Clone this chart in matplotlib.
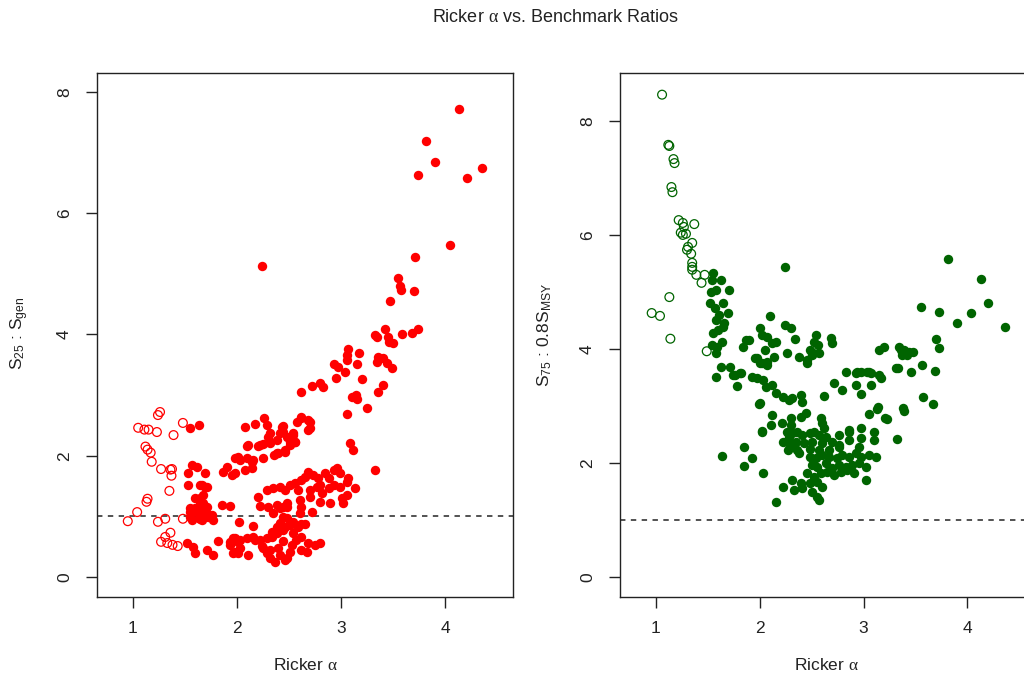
import numpy as np
import matplotlib
matplotlib.use("Agg")
import matplotlib.pyplot as plt

plt.rcParams['font.family'] = ['Liberation Sans', 'DejaVu Sans']
plt.rcParams['mathtext.fontset'] = 'custom'
plt.rcParams['mathtext.rm'] = 'Liberation Sans'
plt.rcParams['mathtext.it'] = 'Liberation Serif'

# ---- data ----
# left panel: S25 : Sgen
left_open_x = [1.26, 1.24, 1.05, 1.11, 1.15, 1.23, 1.48, 1.39, 1.12, 1.14, 1.17, 1.18,
               1.27, 1.36, 1.375, 1.37, 1.35, 1.14, 1.13, 1.04, 0.95, 1.24, 1.31, 1.48,
               1.36, 1.31, 1.27, 1.33, 1.38, 1.43]
left_open_y = [2.72, 2.67, 2.46, 2.43, 2.43, 2.39, 2.54, 2.34, 2.15, 2.10, 2.05, 1.90,
               1.78, 1.77, 1.78, 1.67, 1.42, 1.29, 1.24, 1.07, 0.92, 0.91, 0.96, 0.96,
               0.73, 0.66, 0.58, 0.56, 0.53, 0.51]

left_fill_x = [4.13, 3.82, 3.90, 3.74, 4.21, 4.36, 4.05, 2.24, 3.71, 3.55, 3.57, 3.58, 3.70, 3.47,
               3.42, 3.33, 3.35, 3.45, 3.46, 3.50, 3.59, 3.68, 3.74, 3.07, 3.06, 3.06, 3.17, 3.15,
               2.93, 2.97, 3.04, 3.36, 3.35, 3.40, 3.44, 3.49, 2.95, 3.20, 2.62, 2.72, 2.80, 2.83,
               3.11, 3.14, 3.15, 3.36, 3.40, 3.25, 3.06, 3.09, 3.12, 3.33,
               2.08, 2.17, 2.26, 2.29, 2.32, 2.62, 2.70, 2.68, 2.10, 2.20, 2.25, 2.32, 2.38, 2.41,
               2.44, 2.48, 2.51, 2.54, 2.56, 2.38, 2.46, 2.25, 1.98, 2.03, 2.10, 2.15, 2.14, 2.08,
               1.98, 1.95, 1.87, 1.90, 2.43, 2.44, 2.58, 2.62, 2.68, 2.70, 2.54, 2.56, 2.51, 2.46,
               2.39, 2.36, 2.30, 2.32, 2.22, 2.11, 2.14, 2.01,
               1.55, 1.63, 1.57, 1.62, 1.53, 1.69, 1.53, 1.64, 1.69, 1.60, 1.64, 1.67, 1.71, 1.55,
               1.58, 1.63, 1.55, 1.63, 1.66, 1.72, 1.77, 1.76, 1.86, 1.93, 1.52, 1.58, 1.60, 1.71,
               1.77, 1.82, 1.66, 1.71, 1.67, 1.64, 1.67, 1.60, 1.55, 1.71, 1.57, 1.64,
               1.96, 2.01, 1.93, 2.03, 1.98,
               2.02, 2.15, 1.93, 1.98, 2.03, 2.10, 2.15, 2.22, 2.29, 2.34, 1.96, 2.01, 2.11, 2.25,
               2.29, 2.32, 2.37, 2.41, 2.48, 2.51, 2.38, 2.44, 2.41, 2.51, 2.59, 2.65, 2.54, 2.62,
               2.68, 2.75, 2.80, 2.62, 2.67, 2.35, 2.44, 2.48, 2.17, 2.44, 2.53, 2.57, 2.39, 2.46,
               2.32, 2.24,
               2.20, 2.29, 2.22, 2.30, 2.35, 2.41, 2.46, 2.51, 2.56, 2.59, 2.62, 2.65, 2.68, 2.73,
               2.78, 2.80, 2.85, 2.88, 2.93, 2.96, 2.99, 2.70, 2.77, 2.82, 2.88, 2.93, 2.99, 3.06,
               3.07, 3.13, 3.06, 3.02, 2.89, 2.80, 2.70, 2.61, 2.62, 2.48, 2.41, 2.38, 3.01, 2.72,
               2.61, 2.54, 2.62, 2.46, 2.44, 2.48, 2.38, 2.34]
left_fill_y = [7.71, 7.19, 6.85, 6.63, 6.58, 6.75, 5.48, 5.12, 5.28, 4.93, 4.79, 4.74, 4.72, 4.55,
               4.09, 3.99, 3.96, 3.96, 3.88, 3.86, 4.01, 4.03, 4.09, 3.76, 3.66, 3.58, 3.70, 3.51,
               3.51, 3.47, 3.38, 3.63, 3.55, 3.61, 3.53, 3.45, 3.28, 3.27, 3.05, 3.15, 3.20, 3.14,
               2.97, 3.00, 2.94, 3.05, 3.17, 2.79, 2.69, 2.21, 2.10, 1.77,
               2.47, 2.52, 2.62, 2.51, 2.38, 2.62, 2.56, 2.43, 2.16, 2.16, 2.19, 2.23, 2.26, 2.38,
               2.49, 2.31, 2.23, 2.38, 2.23, 2.05, 2.06, 1.96, 1.96, 1.93, 1.96, 1.93, 1.80, 1.77,
               1.72, 1.68, 1.73, 1.82, 2.48, 2.39, 2.56, 2.64, 2.59, 2.46, 2.34, 2.23, 2.18, 2.10,
               2.05, 2.01, 2.31, 2.21, 2.18, 2.18, 1.90, 1.98,
               2.46, 2.51, 1.85, 1.82, 1.72, 1.72, 1.52, 1.52, 1.49, 1.30, 1.30, 1.22, 1.16, 1.14,
               1.07, 1.06, 0.99, 0.97, 0.94, 0.99, 0.94, 1.02, 1.19, 1.17, 0.56, 0.50, 0.40, 0.45,
               0.36, 0.59, 1.52, 1.49, 1.35, 1.24, 1.16, 1.14, 1.07, 1.04, 0.94, 0.96,
               0.64, 0.58, 0.53, 0.48, 0.41,
               0.91, 0.84, 0.58, 0.64, 0.61, 0.64, 0.66, 0.61, 0.64, 0.66, 0.40, 0.40, 0.36, 0.48,
               0.40, 0.31, 0.25, 0.36, 0.31, 0.41, 0.73, 0.78, 0.89, 0.86, 0.83, 0.87, 0.73, 0.66,
               0.56, 0.53, 0.56, 0.45, 0.41, 1.06, 1.16, 1.22, 0.61, 0.59, 0.53, 0.61, 0.48, 0.28,
               0.45, 0.51,
               1.32, 1.44, 1.17, 1.16, 1.47, 1.49, 1.44, 1.52, 1.55, 1.44, 1.60, 1.65, 1.73, 1.68,
               1.63, 1.52, 1.72, 1.63, 1.77, 1.80, 1.72, 1.44, 1.49, 1.39, 1.47, 1.52, 1.49, 1.57,
               1.63, 1.47, 1.35, 1.22, 1.22, 1.24, 1.32, 1.27, 1.16, 1.16, 1.14, 1.19, 1.30, 1.07,
               1.06, 0.91, 0.87, 0.83, 0.99, 0.97, 0.83, 0.74]

# right panel: S75 : 0.8 SMSY
right_open_x = [1.06, 1.12, 1.13, 1.17, 1.18, 1.15, 1.16, 1.22, 1.26, 1.27, 1.24, 1.26, 1.29,
                1.37, 1.35, 1.31, 1.30, 1.34, 1.35, 1.35, 1.35, 1.39, 1.44, 1.47, 1.13, 0.96,
                1.04, 1.14, 1.49]
right_open_y = [8.46, 7.58, 7.56, 7.33, 7.26, 6.84, 6.75, 6.26, 6.21, 6.14, 6.04, 6.00, 6.02,
                6.19, 5.86, 5.79, 5.74, 5.67, 5.51, 5.44, 5.39, 5.30, 5.16, 5.30, 4.91, 4.63,
                4.58, 4.18, 3.96]

right_fill_x = [1.55, 1.54, 1.63, 1.70, 1.53, 1.58, 1.52, 1.57, 1.65, 1.61, 1.69, 1.58, 1.66,
                1.55, 1.60, 1.65, 1.54, 1.59, 1.64, 1.58, 1.63, 2.24, 3.81, 4.13, 4.20, 4.36,
                3.55, 3.73, 4.03, 3.90, 3.70, 3.73, 3.34, 3.39, 3.44, 3.48, 3.37, 3.42, 3.36,
                3.15, 3.20, 3.31, 3.46, 3.56, 3.69, 2.10, 2.24, 2.30, 2.34, 2.26, 2.00, 2.02,
                2.07, 2.12, 2.16, 1.87, 1.84, 2.05, 2.14, 1.97, 2.00, 2.07, 2.54, 2.52, 2.56,
                2.57, 2.51, 2.46, 2.38, 2.48, 2.69, 2.70, 2.83, 2.94, 2.98, 3.05, 1.71, 1.81,
                1.76, 1.93, 1.90, 2.46, 2.50,
                1.95, 2.02, 2.07, 1.97, 2.03, 2.06, 2.12, 2.16, 2.22, 2.28, 2.31, 2.40, 2.41,
                1.82, 2.00, 2.62, 2.72, 2.79, 2.93, 3.03, 3.07, 3.15, 3.17, 2.93, 3.07, 2.98,
                3.13, 3.05, 3.21, 2.12, 2.21, 2.30, 2.40, 2.45, 2.11, 2.30, 2.59, 2.60, 2.62,
                2.02, 2.26, 2.31, 2.36, 2.41, 2.48, 2.52, 2.57, 2.64, 2.76, 2.86, 2.98, 2.98,
                3.10, 3.10, 2.22, 2.28, 2.35, 2.43, 2.50, 2.60, 2.70, 2.76, 2.27, 2.36, 2.48,
                2.57, 2.67, 1.85, 1.93, 1.85, 2.03, 2.48, 2.54, 2.60, 2.67, 2.74, 2.79, 2.86,
                2.93, 2.98, 3.05, 3.12, 2.50, 2.55, 2.64, 2.70, 2.76, 2.83, 2.89, 2.96, 3.02,
                2.46, 2.52, 2.59, 2.65, 2.72, 2.78, 2.84, 2.91, 2.31, 2.40, 2.48, 2.55, 2.60,
                2.22, 2.33, 2.41, 2.50, 2.55, 2.57, 2.16, 3.02, 2.28, 2.31, 2.38, 2.86, 2.76,
                2.96, 3.33, 3.57, 3.67, 3.14, 3.38, 3.32, 3.39, 3.23, 1.64, 1.99, 2.02, 1.58,
                1.74, 1.78, 2.86]
right_fill_y = [5.33, 5.21, 5.21, 5.04, 5.00, 5.04, 4.81, 4.72, 4.81, 4.60, 4.63, 4.51, 4.46,
                4.28, 4.33, 4.39, 4.07, 4.04, 4.12, 3.93, 3.68, 5.44, 5.58, 5.23, 4.81, 4.39,
                4.74, 4.65, 4.63, 4.46, 4.18, 4.02, 4.04, 3.98, 3.95, 3.95, 3.89, 3.89, 3.98,
                3.98, 4.04, 3.67, 3.60, 3.72, 3.61, 4.58, 4.42, 4.37, 4.18, 3.93, 4.37, 4.25,
                4.21, 4.11, 4.12, 4.16, 4.04, 3.98, 3.86, 3.84, 3.75, 3.77, 4.25, 4.12, 4.07,
                3.93, 3.93, 3.81, 3.86, 3.98, 4.19, 4.11, 3.60, 3.60, 3.60, 3.60, 3.68, 3.58,
                3.54, 3.51, 4.16, 3.75, 3.89,
                3.84, 3.75, 3.72, 3.49, 3.46, 3.33, 3.37, 3.23, 3.16, 3.11, 3.14, 3.19, 3.07,
                3.58, 3.05, 3.18, 3.40, 3.28, 3.58, 3.60, 3.58, 3.54, 3.49, 3.37, 3.37, 3.21,
                2.95, 2.86, 2.79, 2.84, 2.70, 2.79, 2.81, 2.88, 2.67, 2.67, 2.79, 2.70, 2.61,
                2.54, 2.54, 2.53, 2.54, 2.49, 2.53, 2.54, 2.49, 2.46, 2.49, 2.54, 2.61, 2.44,
                2.54, 2.40, 2.37, 2.35, 2.37, 2.35, 2.37, 2.35, 2.37, 2.32, 2.23, 2.23, 2.25,
                2.23, 2.23, 2.28, 2.09, 1.95, 1.82, 2.11, 2.09, 2.14, 2.11, 2.09, 2.14, 2.11,
                2.18, 2.11, 2.14, 2.11, 1.96, 1.93, 2.00, 1.91, 1.96, 1.93, 1.96, 2.00, 1.93,
                1.82, 1.75, 1.82, 1.84, 1.79, 1.84, 1.88, 1.82, 1.70, 1.65, 1.65, 1.67, 1.58,
                1.58, 1.53, 1.56, 1.49, 1.40, 1.35, 1.32, 1.70, 2.46, 2.28, 2.18, 2.40, 2.28,
                2.28, 3.67, 3.16, 3.04, 2.98, 2.96, 2.42, 2.91, 2.77, 2.12, 3.04, 2.56, 3.51,
                3.54, 3.35, 2.58]

x_ticks = [1, 2, 3, 4]
left_y_ticks = [0, 2, 4, 6, 8]
right_y_ticks = [0, 2, 4, 6, 8]
benchmark = 1.0

red = '#ff0000'
green = '#006400'

fig = plt.figure(figsize=(10.24, 6.81), dpi=100)
ax1 = fig.add_axes([97 / 1024, 84 / 681, 416 / 1024, 524 / 681])
ax2 = fig.add_axes([620 / 1024, 84 / 681, 416 / 1024, 524 / 681])


def style(ax, yt):
    ax.set_xticks(x_ticks)
    ax.set_yticks(yt)
    ax.tick_params(axis='both', length=8, width=1, color='#222222', labelsize=12.5,
                   labelcolor='#222222')
    ax.tick_params(axis='x', pad=9)
    ax.tick_params(axis='y', pad=10, labelrotation=90)
    for lab in ax.get_yticklabels():
        lab.set_va('center')
    for s in ax.spines.values():
        s.set_color('#222222')
        s.set_linewidth(1.0)


ax1.scatter(left_fill_x, left_fill_y, s=46, color=red, linewidths=0, zorder=3)
ax1.scatter(left_open_x, left_open_y, s=40, facecolors='none', edgecolors=red,
            linewidths=0.9, zorder=3)
ax1.axhline(benchmark, color='#444444', lw=1.3, ls=(0, (3, 3)), zorder=2)
ax1.set_xlim(0.654, 4.654)
ax1.set_ylim(-0.33, 8.31)
style(ax1, left_y_ticks)

ax2.scatter(right_fill_x, right_fill_y, s=46, color=green, linewidths=0, zorder=3)
ax2.scatter(right_open_x, right_open_y, s=40, facecolors='none', edgecolors=green,
            linewidths=0.9, zorder=3)
ax2.axhline(benchmark, color='#444444', lw=1.3, ls=(0, (3, 3)), zorder=2)
ax2.set_xlim(0.655, 4.66)
ax2.set_ylim(-0.35, 8.84)
style(ax2, right_y_ticks)

fig.text(555 / 1024, 1 - 18 / 681, r'Ricker $\alpha$ vs. Benchmark Ratios',
         ha='center', va='center', fontsize=13, color='#222222')
fig.text(305 / 1024, 16 / 681, r'Ricker $\alpha$', ha='center', va='center',
         fontsize=12.5, color='#222222')
fig.text(826 / 1024, 16 / 681, r'Ricker $\alpha$', ha='center', va='center',
         fontsize=12.5, color='#222222')
fig.text(20 / 1024, 1 - 333 / 681, r'S$_{25}$ : S$_{\mathrm{gen}}$', rotation=90,
         ha='center', va='center', fontsize=12.5, color='#222222')
fig.text(545 / 1024, 1 - 335 / 681, r'S$_{75}$ : 0.8S$_{\mathrm{MSY}}$', rotation=90,
         ha='center', va='center', fontsize=12.5, color='#222222')

fig.savefig('out.png', dpi=100)
